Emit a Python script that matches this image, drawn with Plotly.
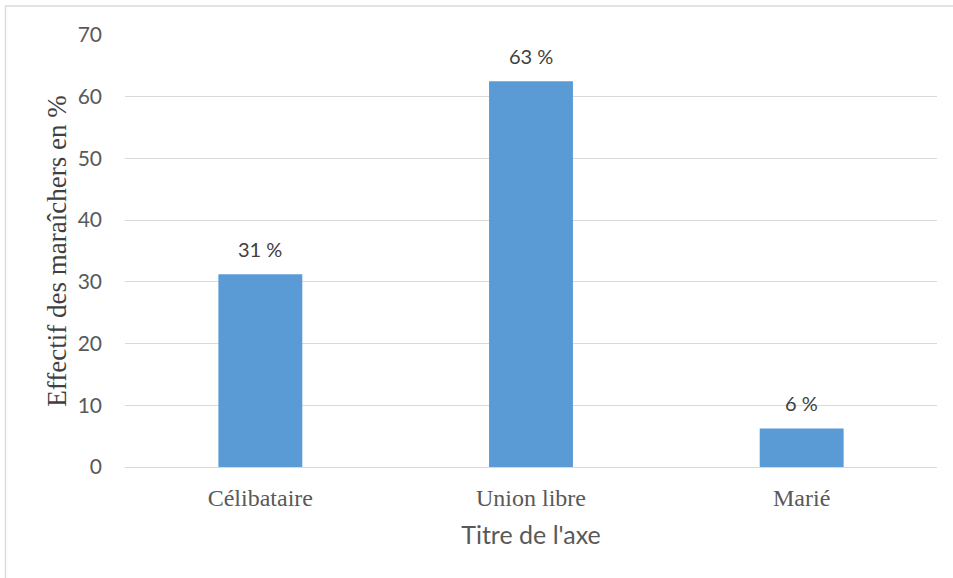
import plotly.graph_objects as go

categories = ["Célibataire", "Union libre", "Marié"]
values = [31.25, 62.5, 6.25]
labels = ["31 %", "63 %", "6 %"]
y_ticks = [0, 10, 20, 30, 40, 50, 60, 70]

W, H = 953, 578
ml, mr, mt, mb = 125, 16, 35, 111
pw, ph = W - ml - mr, H - mt - mb

fig = go.Figure()
fig.add_trace(go.Bar(
    x=categories, y=values,
    marker=dict(color="#5B9BD5", line=dict(width=0)),
    width=0.31,
    hoverinfo="skip",
))

for c, v, t in zip(categories, values, labels):
    fig.add_annotation(x=c, y=v, text=t, showarrow=False, yanchor="bottom",
                       yshift=11, font=dict(family="Lato, Open Sans, sans-serif", size=20, color="#404040"))

# outer chart border
fig.add_shape(type="rect", xref="paper", yref="paper",
              x0=(5.5 - ml) / pw, x1=(W + 5 - ml) / pw,
              y0=-(H + 5 - mt - ph) / ph, y1=(mt - 6 + ph) / ph,
              line=dict(color="#D9D9D9", width=1.3), layer="below")

fig.update_layout(
    width=W, height=H,
    margin=dict(l=ml, r=mr, t=mt, b=mb),
    plot_bgcolor="white", paper_bgcolor="white",
    showlegend=False,
    xaxis=dict(
        showgrid=False, showline=False, zeroline=False,
        tickfont=dict(family="Liberation Serif, Times New Roman, serif", size=24, color="#595959"),
        ticks="", ticklabelstandoff=14,
        title=dict(text="Titre de l'axe", standoff=16,
                   font=dict(family="Lato, Open Sans, sans-serif", size=25, color="#595959")),
    ),
    yaxis=dict(
        range=[0, 70], tickvals=y_ticks,
        showgrid=True, gridcolor="#D9D9D9", gridwidth=1.3,
        zeroline=True, zerolinecolor="#D9D9D9", zerolinewidth=1.3,
        showline=False, ticks="", ticklabelstandoff=22,
        tickfont=dict(family="Lato, Open Sans, sans-serif", size=21, color="#595959"),
        title=dict(text="Effectif des maraîchers en %", standoff=3,
                   font=dict(family="Liberation Serif, Times New Roman, serif", size=27, color="#404040")),
    ),
)

fig.write_html("out.html", config={"displayModeBar": False},
               post_script="document.body.style.margin='0';document.body.style.padding='0';")
